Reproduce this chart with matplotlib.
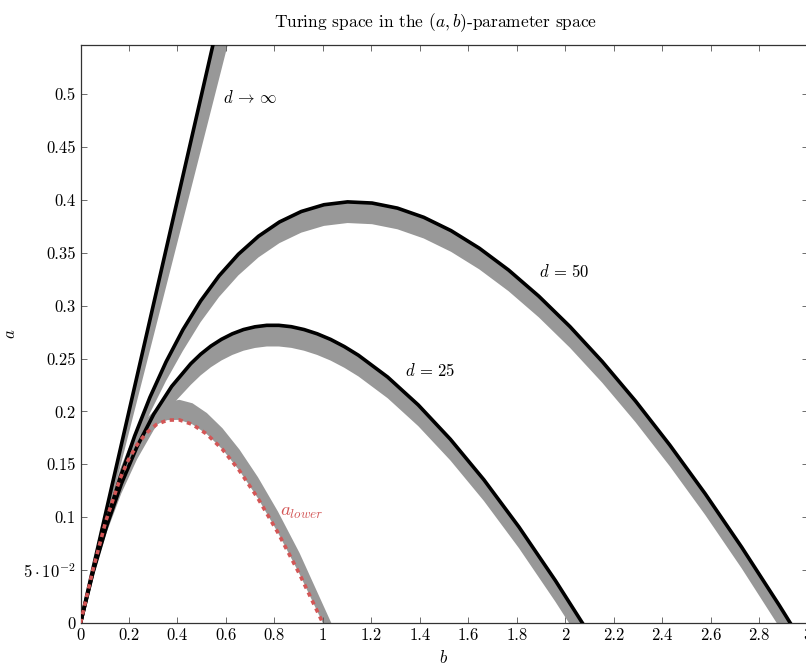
import matplotlib
matplotlib.use("Agg")
import matplotlib.pyplot as plt

plt.rcParams['font.family'] = 'serif'
plt.rcParams['font.serif'] = ['cmr10', 'DejaVu Serif']
plt.rcParams['mathtext.fontset'] = 'cm'
plt.rcParams['axes.unicode_minus'] = False
plt.rcParams['axes.formatter.use_mathtext'] = True

# ---- data (b on x axis, a on y axis) ----
# d -> infinity boundary line
b_inf = [0.0, 0.6]
a_inf = [0.0, 0.6]
# gray band edge of d -> infinity
b_inf_g = [0.0, 0.667]
a_inf_g = [0.0, 0.6]

# d = 50 boundary
b_d50 = [0.0, 0.0514, 0.1057, 0.1630, 0.2233, 0.2866, 0.3531, 0.4227, 0.4956, 0.5718,
         0.6514, 0.7344, 0.8209, 0.9110, 1.0046, 1.1020, 1.2030, 1.3078, 1.4165, 1.5291,
         1.6457, 1.7663, 1.8910, 2.0198, 2.1528, 2.2901, 2.4318, 2.5778, 2.7283, 2.8833, 2.9289]
a_d50 = [0.0, 0.0486, 0.0943, 0.1370, 0.1767, 0.2134, 0.2469, 0.2773, 0.3044, 0.3282,
         0.3486, 0.3656, 0.3791, 0.3890, 0.3954, 0.3981, 0.3970, 0.3922, 0.3835, 0.3709,
         0.3543, 0.3337, 0.3090, 0.2802, 0.2472, 0.2099, 0.1682, 0.1222, 0.0717, 0.0168, 0.0]
# d = 50 gray band inner edge
b_d50_g = [0.0, 0.0514, 0.1057, 0.1630, 0.2233, 0.2866, 0.3531, 0.4227, 0.4956, 0.5718,
           0.6514, 0.7344, 0.8209, 0.9110, 1.0046, 1.1020, 1.2030, 1.3078, 1.4165, 1.5291,
           1.6457, 1.7663, 1.8910, 2.0198, 2.1528, 2.2901, 2.4318, 2.5778, 2.7283, 2.873]
a_d50_g = [0.0, 0.0456, 0.0883, 0.1280, 0.1647, 0.1984, 0.2289, 0.2573, 0.2844, 0.3082,
           0.3286, 0.3456, 0.3591, 0.3690, 0.3754, 0.3781, 0.3770, 0.3722, 0.3635, 0.3509,
           0.3343, 0.3137, 0.2890, 0.2602, 0.2272, 0.1899, 0.1482, 0.1022, 0.0517, 0.0]

# d = 25 boundary
b_d25 = [0.0, 0.0520, 0.1082, 0.1685, 0.2333, 0.3025, 0.3763, 0.4549, 0.4959, 0.5382,
         0.5818, 0.6266, 0.6727, 0.72, 0.7687, 0.8186, 0.8699, 0.9226, 0.9766, 1.0319,
         1.0887, 1.1469, 1.2675, 1.3939, 1.5263, 1.6646, 1.8092, 1.96, 2.0711]
a_d25 = [0.0, 0.0480, 0.0918, 0.1315, 0.1667, 0.1975, 0.2237, 0.2451, 0.2541, 0.2618,
         0.2682, 0.2734, 0.2774, 0.28, 0.2814, 0.2814, 0.2801, 0.2774, 0.2734, 0.2681,
         0.2613, 0.2531, 0.2325, 0.2061, 0.1737, 0.1354, 0.0908, 0.04, 0.0]
# d = 25 gray band inner edge
b_d25_g = [0.0, 0.0520, 0.1082, 0.1685, 0.2333, 0.3025, 0.3763, 0.4549, 0.4959, 0.5382,
           0.5818, 0.6266, 0.6727, 0.72, 0.7687, 0.8186, 0.8699, 0.9226, 0.9766, 1.0319,
           1.0887, 1.1469, 1.2675, 1.3939, 1.5263, 1.6646, 1.8092, 1.96, 2.016]
a_d25_g = [0.0, 0.0450, 0.0858, 0.1225, 0.1547, 0.1825, 0.2057, 0.2251, 0.2341, 0.2418,
           0.2482, 0.2534, 0.2574, 0.26, 0.2614, 0.2614, 0.2601, 0.2574, 0.2534, 0.2481,
           0.2413, 0.2331, 0.2125, 0.1861, 0.1537, 0.1154, 0.0708, 0.02, 0.0]

# a_lower curve
b_low = [0.0, 0.0505, 0.104, 0.1635, 0.1964, 0.232, 0.2706, 0.3125, 0.3582, 0.408, 0.4623,
         0.5215, 0.5859, 0.656, 0.7321, 0.8145, 0.9037, 1.0]
a_low = [0.0, 0.0495, 0.096, 0.1365, 0.1536, 0.168, 0.1794, 0.1875, 0.1918, 0.192, 0.1877,
         0.1785, 0.1641, 0.144, 0.1179, 0.0855, 0.0463, 0.0]
# a_lower gray band upper edge
b_low_g = [0.0, 0.0505, 0.104, 0.1635, 0.1964, 0.232, 0.2706, 0.3125, 0.3582, 0.408, 0.4623,
           0.5215, 0.5859, 0.656, 0.7321, 0.8145, 0.9037, 1.035]
a_low_g = [0.0, 0.0525, 0.102, 0.1455, 0.1641, 0.180, 0.1929, 0.2025, 0.2088, 0.211, 0.2077,
           0.1985, 0.1841, 0.164, 0.1379, 0.1055, 0.0663, 0.0]

x_ticks = [0, 0.2, 0.4, 0.6, 0.8, 1, 1.2, 1.4, 1.6, 1.8, 2, 2.2, 2.4, 2.6, 2.8, 3]
x_ticklabels = ['0', '0.2', '0.4', '0.6', '0.8', '1', '1.2', '1.4', '1.6', '1.8', '2',
                '2.2', '2.4', '2.6', '2.8', '3']
y_ticks = [0, 0.05, 0.1, 0.15, 0.2, 0.25, 0.3, 0.35, 0.4, 0.45, 0.5]
y_ticklabels = ['0', r'$5\cdot10^{-2}$', '0.1', '0.15', '0.2', '0.25', '0.3', '0.35',
                '0.4', '0.45', '0.5']

GRAY = '#989898'
RED = '#d35656'

fig = plt.figure(figsize=(8.06, 6.71), dpi=100)
ax = fig.add_axes([80.5 / 806, 48 / 671, (807.5 - 80.5) / 806, (624.5 - 46.5) / 671])


def band(bo, ao, bi, ai):
    xs = list(bo) + list(bi)[::-1]
    ys = list(ao) + list(ai)[::-1]
    ax.fill(xs, ys, color=GRAY, lw=0, zorder=1)


band(b_inf, a_inf, b_inf_g, a_inf_g)
band(b_d50, a_d50, b_d50_g, a_d50_g)
band(b_d25, a_d25, b_d25_g, a_d25_g)
band(b_low, a_low, b_low_g, a_low_g)

lw = 2.6
ax.plot(b_inf, a_inf, color='black', lw=lw, zorder=3, solid_capstyle='butt')
ax.plot(b_d50, a_d50, color='black', lw=lw, zorder=3, solid_joinstyle='round')
ax.plot(b_d25, a_d25, color='black', lw=lw, zorder=3, solid_joinstyle='round')
ax.plot(b_low, a_low, color=RED, lw=2.6, ls=(0, (1.2, 1.25)), zorder=4)

ax.text(0.59, 0.497, r'$d \,\to\, \infty$', fontsize=12, va='center', ha='left')
ax.text(1.89, 0.332, r'$d\, =\, 50$', fontsize=12, va='center', ha='left')
ax.text(1.34, 0.239, r'$d\, =\, 25$', fontsize=12, va='center', ha='left')
ax.text(0.825, 0.105, r'$a_{lower}$', fontsize=13.5, va='center', ha='left', color=RED)

ax.set_xlim(0, 3)
ax.set_ylim(0, 0.5464)
ax.set_xticks(x_ticks)
ax.set_xticklabels(x_ticklabels)
ax.set_yticks(y_ticks)
ax.set_yticklabels(y_ticklabels)
ax.tick_params(direction='in', top=True, right=True, length=4.5, width=0.6,
               labelsize=12, color='#555555')
for sp in ax.spines.values():
    sp.set_linewidth(0.9)
    sp.set_color('#333333')

ax.set_xlabel(r'$b$', fontsize=12)
ax.set_ylabel(r'$a$', fontsize=12)
ax.set_title(r'Turing space in the $(a, b)$-parameter space', fontsize=12.5, pad=13, x=0.488)

fig.savefig('out.png', dpi=100)
